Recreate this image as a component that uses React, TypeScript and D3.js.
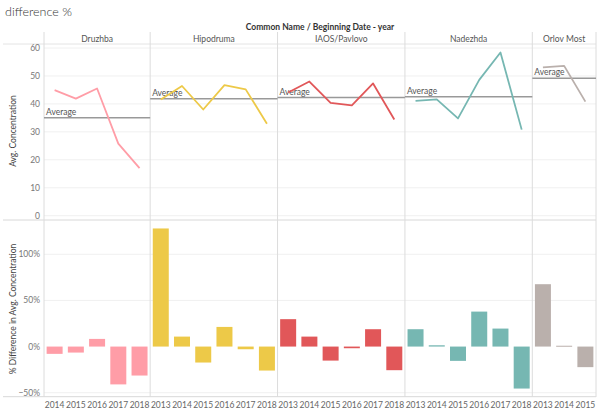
import React from "react";
import * as d3 from "d3";

const panels = ["Druzhba", "Hipodruma", "IAOS/Pavlovo", "Nadezhda", "Orlov Most"];
const colors = ["#FF9DA7", "#EDC948", "#E15759", "#76B7B2", "#BAB0AC"];
const years = [
  ["2014", "2015", "2016", "2017", "2018"],
  ["2013", "2014", "2015", "2016", "2017", "2018"],
  ["2013", "2014", "2015", "2016", "2017", "2018"],
  ["2013", "2014", "2015", "2016", "2017", "2018"],
  ["2013", "2014", "2015"],
];
const avgConc = [
  [44.9, 41.9, 45.5, 25.8, 17.0],
  [41.6, 46.4, 38.0, 46.7, 45.2, 32.9],
  [44.1, 48.0, 40.4, 39.5, 47.3, 34.4],
  [41.1, 41.6, 34.8, 48.6, 58.4, 30.8],
  [53.1, 53.6, 40.8],
];
const pctDiff = [
  [-0.079, -0.065, 0.083, -0.41, -0.314],
  [1.28, 0.108, -0.173, 0.213, -0.029, -0.26],
  [0.297, 0.108, -0.152, -0.018, 0.188, -0.256],
  [0.188, 0.014, -0.155, 0.379, 0.195, -0.455],
  [0.676, 0.009, -0.223],
];
const topTicks = [0, 10, 20, 30, 40, 50, 60];
const bottomTicks = [-0.5, 0, 0.5, 1.0];

const W = 600, H = 411;
const left = 44, right = 596;
const font = "Lato, 'Noto Sans', sans-serif";

export default function App() {
  const counts = years.map((y) => y.length);
  const total = d3.sum(counts);
  const colW = (right - left) / total;
  const starts: number[] = [];
  let acc = 0;
  counts.forEach((c) => { starts.push(acc); acc += c; });

  const yTop = d3.scaleLinear().domain([0, 60]).range([215.7, 48]);
  const yBot = d3.scaleLinear().domain([-0.5, 1.0]).range([392.7, 254.3]);
  const fmtPct = d3.format(".0%");

  return (
    <svg width={W} height={H} style={{ display: "block", position: "absolute", left: 0, top: 0 }} fontFamily={font}>
      <rect width={W} height={H} fill="#fff" />
      <text x={5} y={16} fontSize={12.5} fill="#333" fontWeight={300}>difference %</text>
      <text x={320} y={30} fontSize={8.5} fontWeight={700} fill="#333" textAnchor="middle">Common Name / Beginning Date - year</text>

      {/* gridlines */}
      {topTicks.map((t) => (
        <line key={"gt" + t} x1={left} x2={right} y1={yTop(t)} y2={yTop(t)} stroke="#f0f0f0" strokeWidth={1} />
      ))}
      {bottomTicks.filter((t) => t !== 0).map((t) => (
        <line key={"gb" + t} x1={left} x2={right} y1={yBot(t)} y2={yBot(t)} stroke="#f0f0f0" strokeWidth={1} />
      ))}

      {/* horizontal dividers */}
      <line x1={3} x2={right} y1={44} y2={44} stroke="#e4e4e4" />
      <line x1={3} x2={right} y1={220} y2={220} stroke="#d8d8d8" />
      <line x1={3} x2={right} y1={396.7} y2={396.7} stroke="#d8d8d8" />

      {/* vertical dividers */}
      {panels.map((p, i) => (
        <line key={"v" + i} x1={left + starts[i] * colW} x2={left + starts[i] * colW} y1={32} y2={397} stroke="#dcdcdc" />
      ))}
      <line x1={right} x2={right} y1={32} y2={397} stroke="#dcdcdc" />

      {/* panel titles */}
      {panels.map((p, i) => (
        <text key={"pt" + i} x={left + (starts[i] + counts[i] / 2) * colW} y={42} fontSize={8.5} fill="#555" textAnchor="middle">{p}</text>
      ))}

      {/* y ticks */}
      {topTicks.map((t) => (
        <text key={"tt" + t} x={40} y={yTop(t) + 3} fontSize={8.5} fill="#777" textAnchor="end">{t}</text>
      ))}
      {bottomTicks.map((t) => (
        <text key={"bt" + t} x={40} y={yBot(t) + 3} fontSize={8.5} fill="#777" textAnchor="end">{fmtPct(t)}</text>
      ))}
      <text transform="translate(16,131) rotate(-90)" fontSize={8.5} fill="#444" textAnchor="middle">Avg. Concentration</text>
      <text transform="translate(16,309) rotate(-90)" fontSize={8.5} fill="#444" textAnchor="middle">% Difference in Avg. Concentration</text>

      {panels.map((p, i) => {
        const x0 = left + starts[i] * colW;
        const x1 = x0 + counts[i] * colW;
        const cx = (j: number) => x0 + (j + 0.5) * colW;
        const avg = d3.mean(avgConc[i]) as number;
        const line = d3.line<number>().x((_, j) => cx(j)).y((d) => yTop(d));
        return (
          <g key={"p" + i}>
            <line x1={x0} x2={x1} y1={yTop(avg)} y2={yTop(avg)} stroke="#999" strokeWidth={1.5} />
            <text x={x0 + 2} y={yTop(avg) - 3} fontSize={8.5} fill="#555">Average</text>
            <path d={line(avgConc[i]) || ""} fill="none" stroke={colors[i]} strokeWidth={1.8} strokeLinejoin="round" />
            {pctDiff[i].map((v, j) => {
              const bw = 16;
              const y0 = yBot(0), yv = yBot(v);
              return (
                <rect key={"b" + j} x={cx(j) - bw / 2} y={Math.min(y0, yv)} width={bw} height={Math.max(Math.abs(yv - y0), 1)} fill={colors[i]} />
              );
            })}
            {years[i].map((y, j) => (
              <text key={"y" + j} x={cx(j)} y={408} fontSize={8.5} fill="#666" textAnchor="middle">{y}</text>
            ))}
          </g>
        );
      })}
    </svg>
  );
}
